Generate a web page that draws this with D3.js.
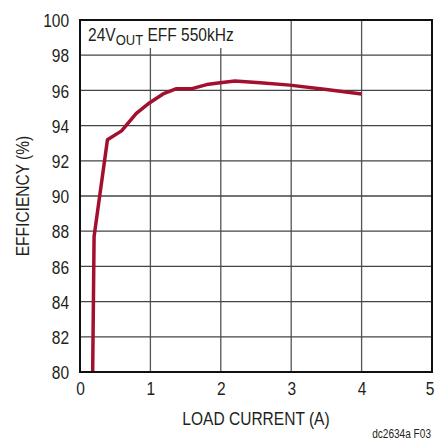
<!DOCTYPE html>
<html>
<head>
<meta charset="utf-8">
<script src="https://cdn.jsdelivr.net/npm/d3@7"></script>
<style>
  body { margin: 0; background: #fff; }
  text { font-family: "Liberation Sans", Arial, sans-serif; fill: #231f20; }
</style>
</head>
<body>
<svg width="435" height="441"></svg>
<script>
const width = 435;
const height = 441;
const margin = { top: 20, right: 3, bottom: 69, left: 80 };
const squeeze = 0.84; // narrow the glyphs, like the condensed face of the original

// load current (A) and efficiency (%)
const current = [0.18, 0.2, 0.39, 0.59, 0.8, 0.99, 1.18, 1.37, 1.59, 1.8, 1.99, 2.2, 2.56, 2.98, 3.5, 4.0];
const efficiency = [80, 87.7, 93.2, 93.7, 94.7, 95.3, 95.8, 96.1, 96.1, 96.33, 96.44, 96.53, 96.44, 96.3, 96.05, 95.8];
const xTicks = [0, 1, 2, 3, 4, 5];
const yTicks = [80, 82, 84, 86, 88, 90, 92, 94, 96, 98, 100];

const data = current.map((c, i) => ({ x: c, y: efficiency[i] }));

const svg = d3.select("svg");
const xScale = d3.scaleLinear().domain([0, 5]).range([margin.left, width - margin.right]);
const yScale = d3.scaleLinear().domain([80, 100]).range([height - margin.bottom, margin.top]);

// grid
svg.append("g")
  .selectAll("line")
  .data(xTicks.slice(1, -1))
  .enter()
  .append("line")
  .attr("x1", d => xScale(d)).attr("x2", d => xScale(d))
  .attr("y1", yScale(100)).attr("y2", yScale(80))
  .attr("stroke", "#555").attr("stroke-width", 1.3);

svg.append("g")
  .selectAll("line")
  .data(yTicks.slice(1, -1))
  .enter()
  .append("line")
  .attr("x1", xScale(0)).attr("x2", xScale(5))
  .attr("y1", d => yScale(d)).attr("y2", d => yScale(d))
  .attr("stroke", "#444").attr("stroke-width", 1.3);

// label background
svg.append("rect")
  .attr("x", xScale(0) + 1).attr("y", yScale(100) + 1)
  .attr("width", 156).attr("height", 27)
  .attr("fill", "#fff");

const label = svg.append("text")
  .attr("transform", `translate(88,41) scale(${squeeze},1)`)
  .attr("font-size", 18.5);
label.append("tspan").text("24V");
label.append("tspan").attr("font-size", 15.5).attr("dy", 4).text("OUT");
label.append("tspan").attr("dy", -4).text(" EFF 550kHz");

// curve
svg.append("defs").append("clipPath").attr("id", "clip")
  .append("rect")
  .attr("x", xScale(0)).attr("y", yScale(100))
  .attr("width", xScale(5) - xScale(0)).attr("height", yScale(80) - yScale(100));

const line = d3.line().x(d => xScale(d.x)).y(d => yScale(d.y));
svg.append("path")
  .datum(data)
  .attr("clip-path", "url(#clip)")
  .attr("d", line)
  .attr("fill", "none")
  .attr("stroke", "#a3102f")
  .attr("stroke-width", 3.5)
  .attr("stroke-linejoin", "round");

// frame
svg.append("rect")
  .attr("x", xScale(0)).attr("y", yScale(100))
  .attr("width", xScale(5) - xScale(0)).attr("height", yScale(80) - yScale(100))
  .attr("fill", "none").attr("stroke", "#111").attr("stroke-width", 2);

// axes
const xAxis = d3.axisBottom(xScale).tickValues(xTicks).tickSize(0).tickPadding(10).tickFormat(d3.format("d"));
const yAxis = d3.axisLeft(yScale).tickValues(yTicks).tickSize(0).tickPadding(13).tickFormat(d3.format("d"));

svg.append("g").attr("transform", `translate(${[0, height - margin.bottom]})`).call(xAxis)
  .call(g => g.select(".domain").remove())
  .selectAll("text")
  .attr("font-size", 18.5).attr("font-family", null).attr("fill", "#231f20")
  .attr("transform", `scale(${squeeze},1)`)
  .attr("dx", d => d === 5 ? -3 : 0);

svg.append("g").attr("transform", `translate(${[margin.left, 0]})`).call(yAxis)
  .call(g => g.select(".domain").remove())
  .selectAll("text")
  .attr("font-size", 18.5).attr("font-family", null).attr("fill", "#231f20")
  .attr("dy", "0.36em")
  .attr("transform", `scale(${squeeze},1)`);

svg.append("text")
  .attr("transform", `translate(${(xScale(0) + xScale(5)) / 2},425) scale(${squeeze},1)`)
  .attr("text-anchor", "middle").attr("font-size", 18.5)
  .text("LOAD CURRENT (A)");

svg.append("text")
  .attr("transform", `translate(29,${(yScale(80) + yScale(100)) / 2}) rotate(-90) scale(${squeeze},1)`)
  .attr("text-anchor", "middle").attr("font-size", 18.5)
  .text("EFFICIENCY (%)");

svg.append("text")
  .attr("transform", `translate(431,438) scale(${squeeze},1)`)
  .attr("text-anchor", "end").attr("font-size", 12)
  .text("dc2634a F03");
</script>
</body>
</html>
